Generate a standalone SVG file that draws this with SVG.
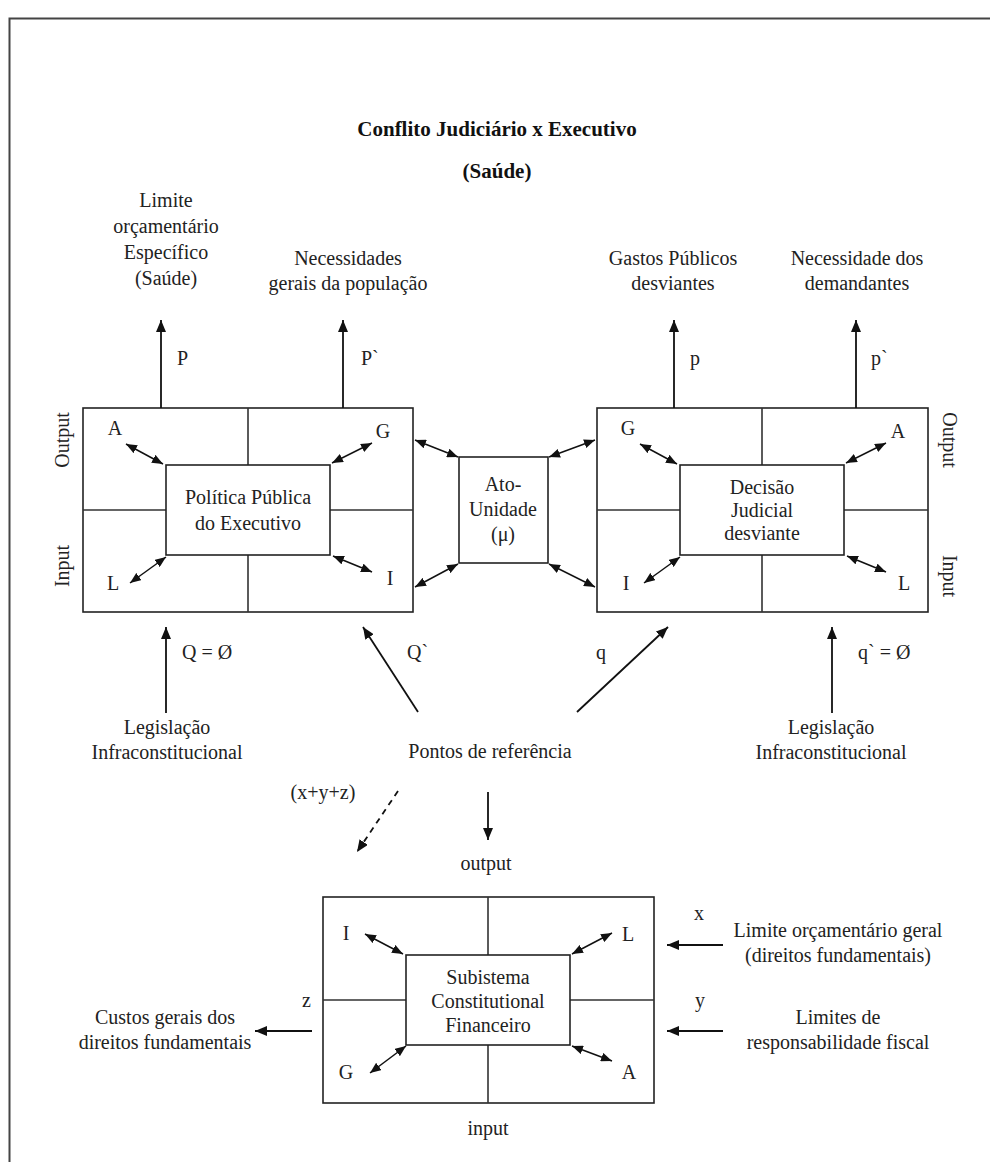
<svg xmlns="http://www.w3.org/2000/svg" width="990" height="1162" viewBox="0 0 990 1162">
<style>
text{font-family:"Liberation Serif","Times New Roman",serif;font-size:20px;fill:#222}
.c{text-anchor:middle}
.t{font-weight:bold;font-size:21px;fill:#111}
.box{fill:#fff;stroke:#222;stroke-width:1.6}
.div{stroke:#333;stroke-width:1.6;fill:none}
.ar{stroke:#111;stroke-width:1.8;fill:none;marker-end:url(#ah)}
.da{stroke:#111;stroke-width:1.5;fill:none;marker-start:url(#sh);marker-end:url(#sh)}
.dash{stroke-dasharray:6 5}
.frame{stroke:#444;stroke-width:2;fill:none}
</style>
<defs>
<marker id="ah" viewBox="0 0 12 10" refX="12" refY="5" markerWidth="12" markerHeight="10" markerUnits="userSpaceOnUse" orient="auto"><path d="M0,0 L12,5 L0,10 z" fill="#111"/></marker>
<marker id="sh" viewBox="0 0 11 9" refX="11" refY="4.5" markerWidth="11" markerHeight="9" markerUnits="userSpaceOnUse" orient="auto-start-reverse"><path d="M0,0 L11,4.5 L0,9 z" fill="#111"/></marker>
</defs>
<rect width="990" height="1162" fill="#fff"/>
<path class="frame" d="M9.5,1162 V18.5 H990"/>

<g id="title">
<text class="c t" x="497" y="136">Conflito Judiciário x Executivo</text>
<text class="c t" x="497" y="178">(Saúde)</text>
</g>

<g id="labels-top">
<g id="limite-especifico"><text class="c" x="166" y="207">Limite</text><text class="c" x="166" y="233">orçamentário</text><text class="c" x="166" y="259">Específico</text><text class="c" x="166" y="285">(Saúde)</text></g>
<g id="necessidades-gerais"><text class="c" x="348" y="265">Necessidades</text><text class="c" x="348" y="290">gerais da população</text></g>
<g id="gastos-publicos"><text class="c" x="673" y="265">Gastos Públicos</text><text class="c" x="673" y="290">desviantes</text></g>
<g id="necessidade-demandantes"><text class="c" x="857" y="265">Necessidade dos</text><text class="c" x="857" y="290">demandantes</text></g>
</g>

<g id="politica-publica">
<rect class="box" x="83" y="408" width="330" height="204"/>
<path class="div" d="M248,408 V465 M248,555 V612 M83,510 H166 M330,510 H413"/>
<rect class="box" x="166" y="465" width="164" height="90"/>
<text class="c" x="248" y="504">Política Pública</text>
<text class="c" x="248" y="530">do Executivo</text>
<text class="c" x="115" y="435">A</text>
<text class="c" x="383" y="438">G</text>
<text class="c" x="113" y="590">L</text>
<text class="c" x="390" y="585">I</text>
<line class="da" x1="126" y1="444" x2="163" y2="464"/>
<line class="da" x1="332" y1="463" x2="372" y2="443"/>
<line class="da" x1="130" y1="583" x2="166" y2="557"/>
<line class="da" x1="333" y1="556" x2="372" y2="572"/>
<text transform="translate(69,440) rotate(-90)" class="c">Output</text>
<text transform="translate(69,566) rotate(-90)" class="c">Input</text>
</g>

<g id="ato-unidade">
<rect class="box" x="459" y="457" width="89" height="106"/>
<text class="c" x="503" y="491">Ato-</text>
<text class="c" x="503" y="516">Unidade</text>
<text class="c" x="503" y="541">(μ)</text>
</g>

<g id="decisao-judicial">
<rect class="box" x="597" y="408" width="331" height="204"/>
<path class="div" d="M762,408 V465 M762,555 V612 M597,510 H680 M844,510 H928"/>
<rect class="box" x="680" y="465" width="164" height="90"/>
<text class="c" x="762" y="494">Decisão</text>
<text class="c" x="762" y="517">Judicial</text>
<text class="c" x="762" y="540">desviante</text>
<text class="c" x="628" y="435">G</text>
<text class="c" x="898" y="438">A</text>
<text class="c" x="626" y="590">I</text>
<text class="c" x="904" y="590">L</text>
<line class="da" x1="640" y1="444" x2="677" y2="464"/>
<line class="da" x1="846" y1="463" x2="886" y2="443"/>
<line class="da" x1="644" y1="583" x2="680" y2="557"/>
<line class="da" x1="847" y1="556" x2="886" y2="572"/>
<text transform="translate(943,440) rotate(90)" class="c">Output</text>
<text transform="translate(943,576) rotate(90)" class="c">Input</text>
</g>

<g id="subsistema">
<rect class="box" x="323" y="897" width="331" height="206"/>
<path class="div" d="M488,897 V955 M488,1045 V1103 M323,1000 H406 M570,1000 H654"/>
<rect class="box" x="406" y="955" width="164" height="90"/>
<text class="c" x="488" y="984">Subistema</text>
<text class="c" x="488" y="1008">Constitutional</text>
<text class="c" x="488" y="1032">Financeiro</text>
<text class="c" x="346" y="940">I</text>
<text class="c" x="628" y="941">L</text>
<text class="c" x="346" y="1079">G</text>
<text class="c" x="629" y="1079">A</text>
<line class="da" x1="365" y1="934" x2="403" y2="954"/>
<line class="da" x1="572" y1="954" x2="612" y2="933"/>
<line class="da" x1="370" y1="1073" x2="406" y2="1046"/>
<line class="da" x1="572" y1="1046" x2="612" y2="1061"/>
</g>

<g id="labels-bottom">
<g id="legislacao-esq"><text class="c" x="167" y="734">Legislação</text><text class="c" x="167" y="759">Infraconstitucional</text></g>
<g id="pontos-referencia"><text class="c" x="490" y="758">Pontos de referência</text></g>
<g id="legislacao-dir"><text class="c" x="831" y="734">Legislação</text><text class="c" x="831" y="759">Infraconstitucional</text></g>
<text class="c" x="486" y="870">output</text>
<text class="c" x="488" y="1135">input</text>
<g id="limite-geral"><text class="c" x="838" y="937">Limite orçamentário geral</text><text class="c" x="838" y="962">(direitos fundamentais)</text></g>
<g id="limites-responsabilidade"><text class="c" x="838" y="1024">Limites de</text><text class="c" x="838" y="1049">responsabilidade fiscal</text></g>
<g id="custos-gerais"><text class="c" x="165" y="1024">Custos gerais dos</text><text class="c" x="165" y="1049">direitos fundamentais</text></g>
</g>

<g id="connectors">
<line class="ar" x1="161" y1="408" x2="161" y2="320"/>
<line class="ar" x1="343" y1="408" x2="343" y2="320"/>
<line class="ar" x1="674" y1="408" x2="674" y2="320"/>
<line class="ar" x1="856" y1="408" x2="856" y2="320"/>
<line class="da" x1="415" y1="440" x2="458" y2="457"/>
<line class="da" x1="415" y1="587" x2="458" y2="564"/>
<line class="da" x1="549" y1="457" x2="595" y2="440"/>
<line class="da" x1="549" y1="564" x2="595" y2="587"/>
<line class="ar" x1="166" y1="713" x2="166" y2="627"/>
<line class="ar" x1="418" y1="712" x2="363" y2="627"/>
<line class="ar" x1="577" y1="712" x2="668" y2="627"/>
<line class="ar" x1="832" y1="713" x2="832" y2="627"/>
<line class="ar" x1="488" y1="792" x2="488" y2="840"/>
<line class="ar dash" x1="398" y1="791" x2="357" y2="852"/>
<line class="ar" x1="723" y1="945" x2="667" y2="945"/>
<line class="ar" x1="723" y1="1031" x2="667" y2="1031"/>
<line class="ar" x1="312" y1="1031" x2="255" y2="1031"/>
<text x="177" y="365">P</text>
<text x="361" y="365">P`</text>
<text x="690" y="365">p</text>
<text x="871" y="365">p`</text>
<text x="182" y="659">Q = Ø</text>
<text x="407" y="659">Q`</text>
<text x="596" y="659">q</text>
<text x="858" y="659">q` = Ø</text>
<text class="c" x="323" y="799">(x+y+z)</text>
<text x="694" y="920">x</text>
<text x="695" y="1007">y</text>
<text x="302" y="1007">z</text>
</g>
</svg>
